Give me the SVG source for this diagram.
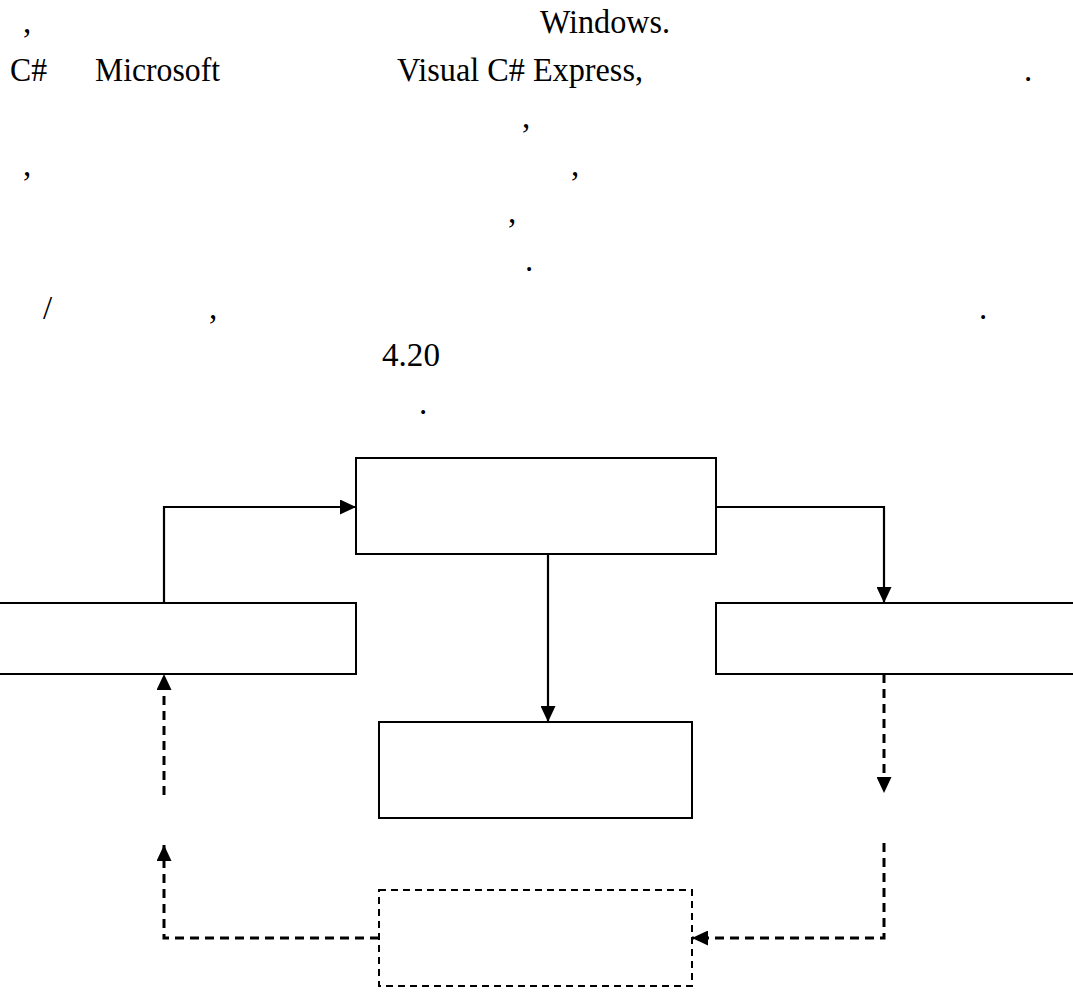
<svg xmlns="http://www.w3.org/2000/svg" width="1073" height="992" viewBox="0 0 1073 992">
  <style>
    .t { font-family: "Liberation Serif", "Times New Roman", serif; font-size: 33px; fill: #000; }
    .box { fill: #fff; stroke: #000; stroke-width: 2; }
    .dbox { fill: #fff; stroke: #000; stroke-width: 2; stroke-dasharray: 7 5; }
    .solid { fill: none; stroke: #000; stroke-width: 2.2; }
    .dash { fill: none; stroke: #000; stroke-width: 3; stroke-dasharray: 9 6; }
  </style>
  <defs>
    <marker id="arr" markerUnits="userSpaceOnUse" markerWidth="16" markerHeight="15" refX="16" refY="7.5" orient="auto" viewBox="0 0 16 15">
      <path d="M0,0 L16,7.5 L0,15 Z" fill="#000"/>
    </marker>
  </defs>
  <rect width="1073" height="992" fill="#fff"/>

  <g id="text">
    <text class="t" x="23" y="33">,</text>
    <text class="t" x="540" y="33" textLength="130" lengthAdjust="spacingAndGlyphs">Windows.</text>
    <text class="t" x="10" y="81" textLength="37" lengthAdjust="spacingAndGlyphs">C#</text>
    <text class="t" x="95" y="81" textLength="125" lengthAdjust="spacingAndGlyphs">Microsoft</text>
    <text class="t" x="397" y="81" textLength="246" lengthAdjust="spacingAndGlyphs">Visual C# Express,</text>
    <text class="t" x="1024" y="81">.</text>
    <text class="t" x="522" y="128">,</text>
    <text class="t" x="23" y="176">,</text>
    <text class="t" x="571" y="176">,</text>
    <text class="t" x="508" y="223">,</text>
    <text class="t" x="525" y="271">.</text>
    <text class="t" x="43" y="319">/</text>
    <text class="t" x="209" y="319">,</text>
    <text class="t" x="979" y="319">.</text>
    <text class="t" x="382" y="366" textLength="58" lengthAdjust="spacingAndGlyphs">4.20</text>
    <text class="t" x="419" y="414">.</text>
  </g>

  <g id="node-top"><rect class="box" x="356" y="458" width="360" height="96"/></g>
  <g id="node-left"><rect class="box" x="-5" y="603" width="361" height="71"/></g>
  <g id="node-right"><rect class="box" x="716" y="603" width="362" height="71"/></g>
  <g id="node-middle"><rect class="box" x="379" y="722" width="313" height="96"/></g>
  <g id="node-dashed"><rect class="dbox" x="379" y="890" width="313" height="96"/></g>

  <g id="connectors">
    <path class="solid" d="M164,603 V507 H356" marker-end="url(#arr)"/>
    <path class="solid" d="M716,507 H884 V603" marker-end="url(#arr)"/>
    <path class="solid" d="M548,554 V722" marker-end="url(#arr)"/>
    <path class="dash" d="M884,674 V793" marker-end="url(#arr)"/>
    <path class="dash" d="M884,843 V938 H692" marker-end="url(#arr)"/>
    <path class="dash" d="M379,938 H164 V845" marker-end="url(#arr)"/>
    <path class="dash" d="M164,795 V674" marker-end="url(#arr)"/>
  </g>
</svg>
